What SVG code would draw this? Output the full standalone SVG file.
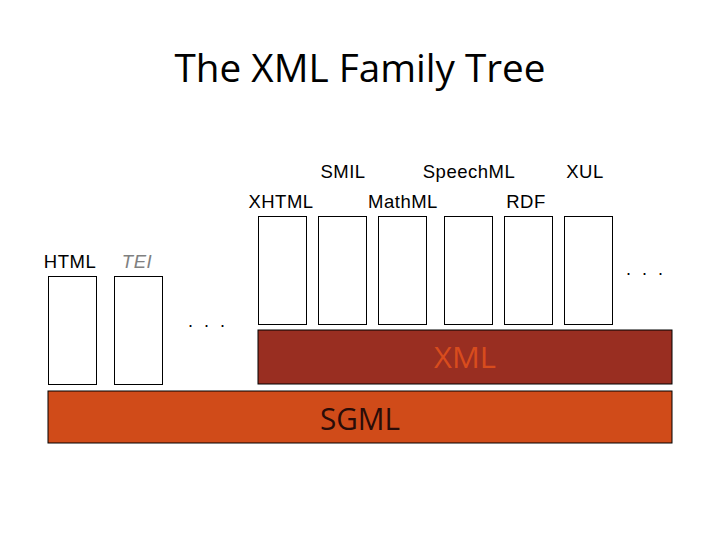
<svg xmlns="http://www.w3.org/2000/svg" width="720" height="540" viewBox="0 0 720 540">
<style>
.box{fill:#fff;stroke:#000;stroke-width:1}
.lbl{font-family:"Liberation Sans",Arial,sans-serif;font-size:18.5px;fill:#000;text-anchor:middle;letter-spacing:0.5px}
.dots{font-family:"Liberation Sans",Arial,sans-serif;font-size:18px;fill:#000;text-anchor:middle;letter-spacing:3px}
.big{font-family:"Open Sans","Liberation Sans",sans-serif;text-anchor:middle}
</style>
<rect width="720" height="540" fill="#fff"/>
<text x="360" y="82" class="big" font-size="38" fill="#000" textLength="371" lengthAdjust="spacingAndGlyphs">The XML Family Tree</text>
<g id="sgml"><rect x="48" y="391" width="624" height="52" fill="#d04b19" stroke="#000"/><text x="360" y="430" class="big" font-size="31" fill="#2a0c08" textLength="80" lengthAdjust="spacingAndGlyphs">SGML</text></g>
<g id="xml"><rect x="258" y="330" width="414" height="54" fill="#992e21" stroke="#000"/><text x="465" y="368" class="big" font-size="29" fill="#d84c1d" textLength="62" lengthAdjust="spacingAndGlyphs">XML</text></g>
<g id="html"><rect class="box" x="48.5" y="276.5" width="48" height="108"/><text class="lbl" x="70" y="268">HTML</text></g>
<g id="tei"><rect class="box" x="114.5" y="276.5" width="48" height="108"/><text class="lbl" x="137" y="268" font-style="italic" style="fill:#808080">TEI</text></g>
<g id="xhtml"><rect class="box" x="258.5" y="216.5" width="48" height="108"/><text class="lbl" x="281" y="208">XHTML</text></g>
<g id="smil"><rect class="box" x="318.5" y="216.5" width="48" height="108"/><text class="lbl" x="343" y="178">SMIL</text></g>
<g id="mathml"><rect class="box" x="378.5" y="216.5" width="48" height="108"/><text class="lbl" x="403" y="208">MathML</text></g>
<g id="speechml"><rect class="box" x="444.5" y="216.5" width="48" height="108"/><text class="lbl" x="469" y="178">SpeechML</text></g>
<g id="rdf"><rect class="box" x="504.5" y="216.5" width="48" height="108"/><text class="lbl" x="526" y="208">RDF</text></g>
<g id="xul"><rect class="box" x="564.5" y="216.5" width="48" height="108"/><text class="lbl" x="585" y="178">XUL</text></g>
<g id="more1"><text class="dots" x="208" y="327">. . .</text></g>
<g id="more2"><text class="dots" x="646" y="275">. . .</text></g>
<g id="connectors"></g>
</svg>
